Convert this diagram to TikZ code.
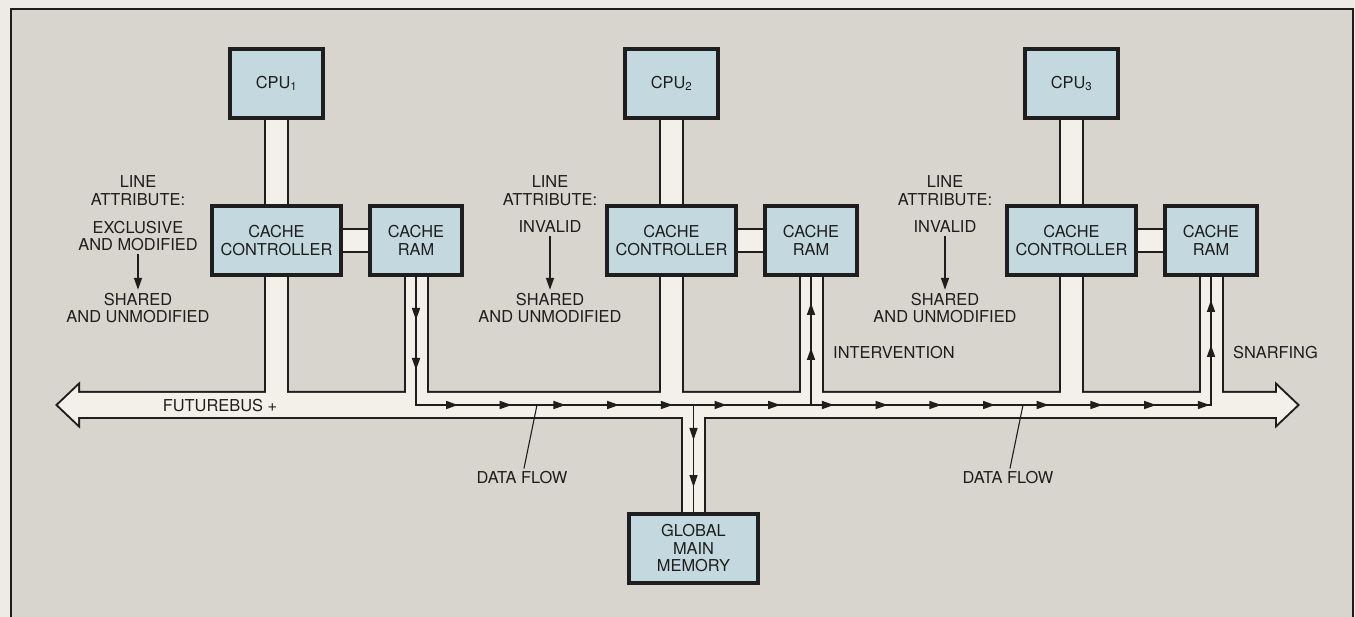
\documentclass[tikz,border=0pt]{standalone}
\usepackage{fontspec}
\setmainfont{TeX Gyre Heros}
\usepackage{xcolor}
\usepackage{tikz}
\usetikzlibrary{
  arrows.meta, positioning, backgrounds, decorations.markings
}
\definecolor{paper}{HTML}{EEEBE6}
\definecolor{panel}{HTML}{D8D4CE}
\definecolor{boxblue}{HTML}{C4D8DF}
\definecolor{pipewhite}{HTML}{F3F0EA}
\definecolor{ink}{HTML}{1E1E1E}
\newcommand{\diagfont}{\fontsize{16.4}{17.5}\selectfont}
\tikzset{
  %% Hardware block
  hwbox/.style={
    rectangle, draw=ink, fill=boxblue, line width=4pt,
    minimum width=#1, minimum height=69pt,
    align=center, font=\diagfont, text=ink, inner sep=2pt
  },
  hwbox/.default=129pt,
  %% Open channel: outline pass, then fill pass
  pipeedge/.style={draw=ink, line width=25pt},
  pipefill/.style={draw=pipewhite, line width=21pt},
  %% Data flow line
  flow/.style={draw=ink, line width=1.6pt, postaction={decorate}},
  %% Plain text
  lbl/.style={font=\diagfont, text=ink, align=center, inner sep=3pt},
  leader/.style={draw=ink, line width=1.1pt},
  attrarr/.style={-{Triangle[length=12pt,width=8pt]},
                  draw=ink, line width=1.5pt},
}

\begin{document}
\begin{tikzpicture}[x=1pt, y=-1pt, >={Triangle[length=12pt,width=8pt]}]
  \useasboundingbox (0,0) rectangle (1355,617);
  \coordinate (bus) at (0,405);

  %% Processor groups
  \foreach \i/\x in {1/276.5, 2/671.5, 3/1071.5}{
    \node[hwbox=93pt] (cpu\i) at (\x,83.5) {CPU\textsubscript{\i}};
    \node[hwbox, below=84pt of cpu\i] (cc\i) {CACHE\\CONTROLLER};
    \node[hwbox=92pt, right=25pt of cc\i] (ram\i) {CACHE\\RAM};
  }
  \node[hwbox] (gmm) at (693.5,548.5) {GLOBAL\\MAIN\\MEMORY};

  %% Line attributes
  \node[lbl] (attr1) at (138,190.5) {LINE\\ATTRIBUTE:};
  \node[lbl] (from1) at (138,236) {EXCLUSIVE\\AND MODIFIED};
  \node[lbl] (to1)   at (138,308) {SHARED\\AND UNMODIFIED};
  \node[lbl] (attr2) at (550,190.5) {LINE\\ATTRIBUTE:};
  \node[lbl] (from2) at (550,227) {INVALID};
  \node[lbl] (to2)   at (550,308) {SHARED\\AND UNMODIFIED};
  \node[lbl] (attr3) at (945,190.5) {LINE\\ATTRIBUTE:};
  \node[lbl] (from3) at (945,227) {INVALID};
  \node[lbl] (to3)   at (945,308) {SHARED\\AND UNMODIFIED};
  \draw[attrarr] (from1) -- (to1);
  \draw[attrarr] (from2) -- (to2);
  \draw[attrarr] (from3) -- (to3);

  %% Bus and flow labels
  \node[lbl] (busname) at (220,406) {FUTUREBUS +};
  \node[lbl, anchor=west] (interv) at (830,353) {INTERVENTION};
  \node[lbl, anchor=west] (snarf) at (1230,353) {SNARFING};
  \node[lbl] (flowL) at (522,478) {DATA FLOW};
  \node[lbl] (flowR) at (1008,478) {DATA FLOW};

  %% Data flow
  \draw[flow, decoration={markings,
      mark=at position 43pt with {\arrow{>}},
      mark=at position 93pt with {\arrow{>}},
      mark=between positions 170pt and 923pt step 53.7pt with {\arrow{>}},
      mark=at position 983pt with {\arrow{>}},
      mark=at position 1028pt with {\arrow{>}}}]
    (ram1.south) -- (ram1 |- bus) -- (ram3 |- bus) -- (ram3.south);
  \draw[flow, decoration={markings,
      mark=at position 57pt with {\arrow{>}},
      mark=at position 102pt with {\arrow{>}}}]
    (ram2 |- bus) -- (ram2.south);
  \draw[flow, decoration={markings,
      mark=at position 35pt with {\arrow{>}},
      mark=at position 82pt with {\arrow{>}}}]
    (gmm |- bus) -- (gmm.north);
  \coordinate (df1) at (537,405);
  \coordinate (df2) at (1023,405);
  \draw[leader] (df1) -- (flowL);
  \draw[leader] (df2) -- (flowR);

  %% Channels behind the blocks
  \begin{scope}[on background layer]
    \fill[paper] (0,0) rectangle (1355,617);
    \fill[panel] (11,9) rectangle (1353,617);
    \draw[ink, line width=1.5pt] (11,617) |- (1353,9) -- (1353,617);
    \draw[ink, line width=4pt] (58,405) -- (78,386) -- (78,393) -- (1277,393)
      -- (1277,386) -- (1297,405) -- (1277,424) -- (1277,417) -- (78,417)
      -- (78,424) -- cycle;
    \foreach \i in {1,2,3}{
      \draw[pipeedge] (cpu\i) -- (cc\i);
      \draw[pipeedge] (cc\i) -- (ram\i);
      \draw[pipeedge] (cc\i) -- (cc\i |- bus);
      \draw[pipeedge] (ram\i) -- (ram\i |- bus);
    }
    \draw[pipeedge] (gmm) -- (gmm |- bus);
    \fill[pipewhite] (58,405) -- (78,386) -- (78,393) -- (1277,393)
      -- (1277,386) -- (1297,405) -- (1277,424) -- (1277,417) -- (78,417)
      -- (78,424) -- cycle;
    \foreach \i in {1,2,3}{
      \draw[pipefill] (cpu\i) -- (cc\i);
      \draw[pipefill] (cc\i) -- (ram\i);
      \draw[pipefill] (cc\i) -- (cc\i |- bus);
      \draw[pipefill] (ram\i) -- (ram\i |- bus);
    }
    \draw[pipefill] (gmm) -- (gmm |- bus);
  \end{scope}
\end{tikzpicture}
\end{document}
